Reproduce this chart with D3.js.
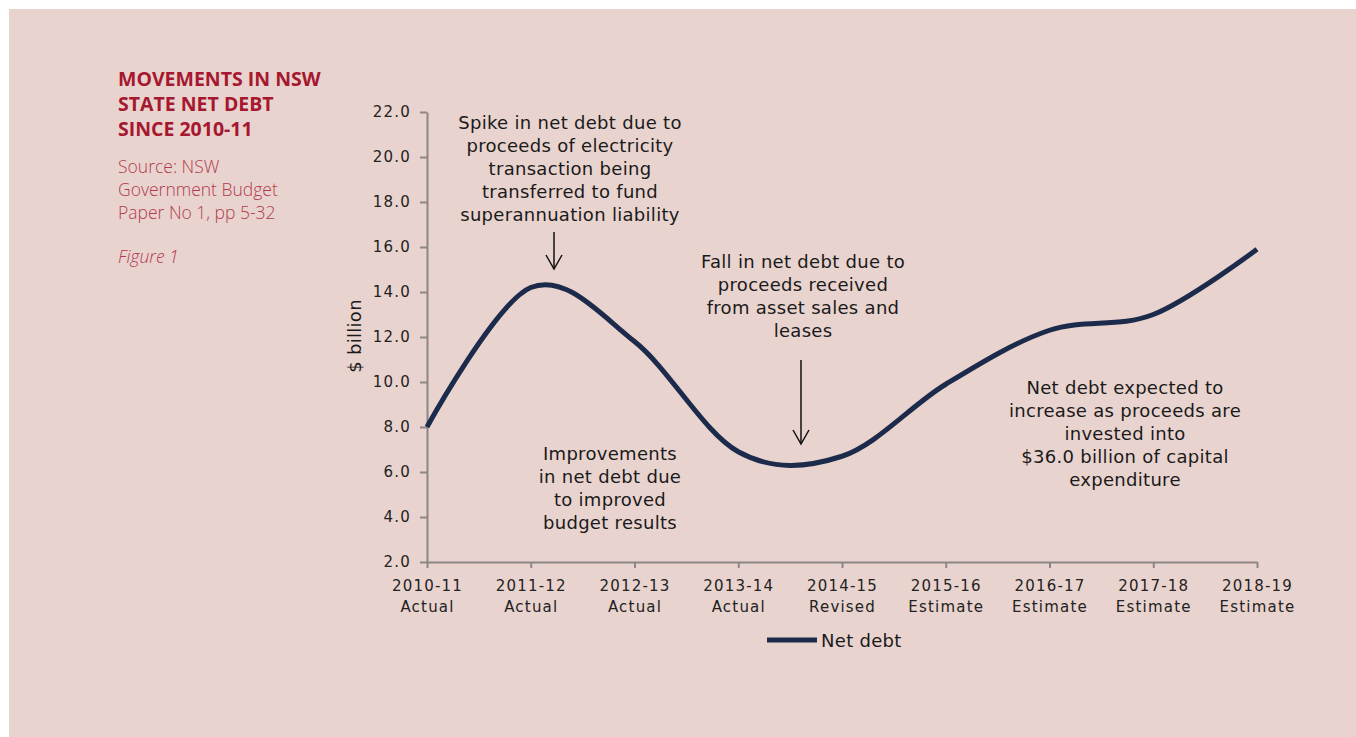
<!DOCTYPE html>
<html>
<head>
<meta charset="utf-8">
<script src="https://cdn.jsdelivr.net/npm/d3@7"></script>
<style>
  body { margin: 0; background: #ffffff; }
  svg { display: block; }
  .axis path, .axis line { stroke: #8c8684; stroke-width: 2; }
  .tick text { font-family: "DejaVu Sans", sans-serif; font-size: 15px; fill: #222; letter-spacing: 1.2px; }
  .note { font-family: "DejaVu Sans", sans-serif; font-size: 18px; fill: #1a1a1a; letter-spacing: 0.3px; }
</style>
</head>
<body>
<svg id="canvas" width="1356" height="737"></svg>
<script>
// data
const years = ["2010-11", "2011-12", "2012-13", "2013-14", "2014-15", "2015-16", "2016-17", "2017-18", "2018-19"];
const status = ["Actual", "Actual", "Actual", "Actual", "Revised", "Estimate", "Estimate", "Estimate", "Estimate"];
const net_debt = [8.0, 14.2, 11.8, 6.9, 6.7, 9.9, 12.3, 13.0, 15.9];
const y_ticks = [2, 4, 6, 8, 10, 12, 14, 16, 18, 20, 22];

const svg = d3.select("svg#canvas");

svg.append("rect")
    .attr("x", 9).attr("y", 9)
    .attr("width", 1347).attr("height", 728)
    .attr("fill", "#e9d3ce");

// side title
const side = svg.append("g").attr("transform", "translate(118, 0)");
side.selectAll("text.ttl")
    .data(["MOVEMENTS IN NSW", "STATE NET DEBT", "SINCE 2010-11"])
    .join("text")
    .attr("class", "ttl")
    .attr("y", (_, i) => 86 + i * 25)
    .attr("font-family", "'Open Sans', sans-serif")
    .attr("font-weight", 700)
    .attr("font-size", 19.5)
    .attr("fill", "#a5182f")
    .text(d => d);

side.selectAll("text.src")
    .data(["Source: NSW", "Government Budget", "Paper No 1, pp 5-32"])
    .join("text")
    .attr("class", "src")
    .attr("y", (_, i) => 173 + i * 23)
    .attr("font-family", "'Open Sans', sans-serif")
    .attr("font-weight", 300)
    .attr("font-size", 17.5)
    .attr("fill", "#b23a50")
    .text(d => d);

side.append("text")
    .attr("y", 263)
    .attr("font-family", "'Open Sans', sans-serif")
    .attr("font-style", "italic")
    .attr("font-weight", 300)
    .attr("font-size", 17.5)
    .attr("fill", "#b23a50")
    .text("Figure 1");

// scales
const x = d3.scalePoint().domain(years).range([427, 1257]);
const y = d3.scaleLinear().domain([2, 22]).range([562, 112]);

// axes
svg.append("g")
    .attr("class", "axis")
    .attr("transform", "translate(427,0)")
    .call(d3.axisLeft(y).tickValues(y_ticks).tickFormat(d3.format(".1f")).tickSize(7).tickSizeOuter(0).tickPadding(9));

const xa = svg.append("g")
    .attr("class", "axis")
    .attr("transform", "translate(0,562)")
    .call(d3.axisBottom(x).tickSize(6).tickSizeOuter(0).tickPadding(4));
xa.selectAll(".tick text").remove();
xa.selectAll(".tick")
    .append("text")
    .attr("text-anchor", "middle")
    .selectAll("tspan")
    .data((d, i) => [d, status[i]])
    .join("tspan")
    .attr("x", 0)
    .attr("y", (_, i) => 29 + i * 21)
    .text(d => d);

svg.append("text")
    .attr("class", "note")
    .attr("transform", "translate(361,336) rotate(-90)")
    .attr("text-anchor", "middle")
    .attr("font-size", 17)
    .text("$ billion");

// the line
const line = d3.line()
    .x((_, i) => x(years[i]))
    .y(d => y(d))
    .curve(d3.curveCardinal.tension(0));

svg.append("path")
    .datum(net_debt)
    .attr("d", line)
    .attr("fill", "none")
    .attr("stroke", "#1c2b4b")
    .attr("stroke-width", 5);

// notes
const notes = [
    { cx: 570, y0: 129, lines: ["Spike in net debt due to", "proceeds of electricity", "transaction being", "transferred to fund", "superannuation liability"] },
    { cx: 803, y0: 268, lines: ["Fall in net debt due to", "proceeds received", "from asset sales and", "leases"] },
    { cx: 610, y0: 460, lines: ["Improvements", "in net debt due", "to improved", "budget results"] },
    { cx: 1125, y0: 394, lines: ["Net debt expected to", "increase as proceeds are", "invested into", "$36.0 billion of capital", "expenditure"] }
];

svg.selectAll("text.note-block")
    .data(notes)
    .join("text")
    .attr("class", "note note-block")
    .attr("text-anchor", "middle")
    .selectAll("tspan")
    .data(d => d.lines.map(l => ({ l, cx: d.cx, y0: d.y0 })))
    .join("tspan")
    .attr("x", d => d.cx)
    .attr("y", (d, i) => d.y0 + i * 23)
    .text(d => d.l);

// arrows
const arrows = [
    { x: 554, y1: 232, y2: 269 },
    { x: 801, y1: 360, y2: 444 }
];
const ag = svg.selectAll("g.arrow")
    .data(arrows)
    .join("g")
    .attr("class", "arrow")
    .attr("fill", "none")
    .attr("stroke", "#111")
    .attr("stroke-width", 1.5);
ag.append("line")
    .attr("x1", d => d.x).attr("x2", d => d.x)
    .attr("y1", d => d.y1).attr("y2", d => d.y2);
ag.append("path")
    .attr("d", d => `M${d.x - 8},${d.y2 - 14}L${d.x},${d.y2}L${d.x + 8},${d.y2 - 14}`);

// legend
svg.append("line")
    .attr("x1", 767).attr("x2", 817)
    .attr("y1", 640).attr("y2", 640)
    .attr("stroke", "#1c2b4b")
    .attr("stroke-width", 5);
svg.append("text")
    .attr("class", "note")
    .attr("x", 821)
    .attr("y", 647)
    .text("Net debt");
</script>
</body>
</html>
